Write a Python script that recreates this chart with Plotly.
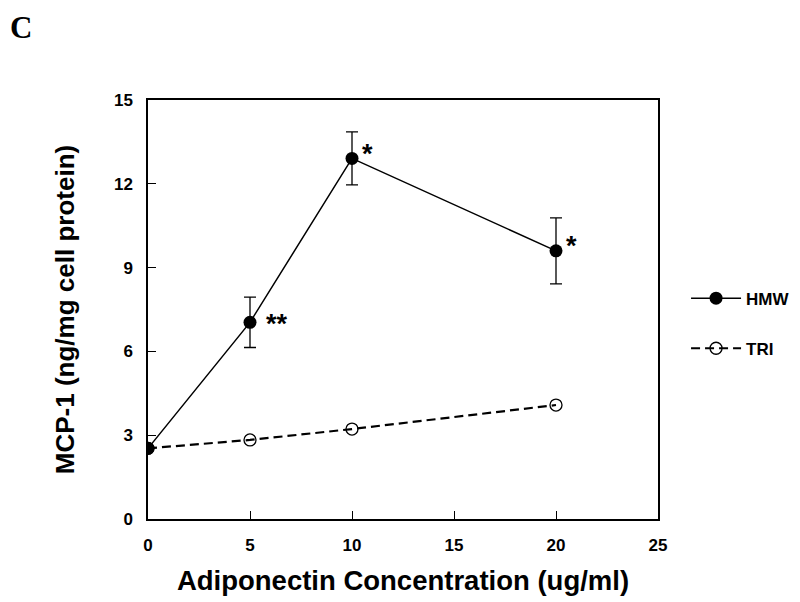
import plotly.graph_objects as go

conc = [0, 5, 10, 20]
hmw = [2.53, 7.04, 12.91, 9.6]
hmw_err = [0, 0.9, 0.95, 1.18]
tri = [2.53, 2.83, 3.22, 4.08]
sig_x = [5, 10, 20]
sig_y = [7.04, 12.91, 9.6]
sig_labels = ["**", "*", "*"]
x_ticks = [0, 5, 10, 15, 20, 25]
y_ticks = [0, 3, 6, 9, 12, 15]

FONT = "Liberation Sans, Arial, sans-serif"

fig = go.Figure()
fig.add_trace(go.Scatter(
    x=conc, y=hmw, name="<b>HMW</b>", mode="lines+markers",
    line=dict(color="black", width=1.5),
    marker=dict(symbol="circle", size=13, color="black"),
    error_y=dict(type="data", array=hmw_err, visible=True, color="black", thickness=1.3, width=6),
    legendgroup="a",
))
fig.add_trace(go.Scatter(
    x=conc, y=tri, name="<b>TRI</b>", mode="lines+markers",
    line=dict(color="black", width=2.2, dash="9px,5px"),
    marker=dict(symbol="circle-open", size=12, color="black", line=dict(width=1.3)),
    legendgroup="b",
))

shifts = {0: (14, -2), 1: (8, 4), 2: (8, 5)}
for i, (sx, sy, lab) in enumerate(zip(sig_x, sig_y, sig_labels)):
    dx, dy = shifts[i]
    fig.add_annotation(x=sx, y=sy, text="<b>" + lab + "</b>", showarrow=False,
                       xanchor="left", yanchor="middle", xshift=dx, yshift=dy,
                       font=dict(family=FONT, size=27, color="black"))

fig.add_annotation(x=-0.2725, y=1.218, xref="paper", yref="paper", xanchor="left", yanchor="top",
                   text="<b>C</b>", showarrow=False, borderpad=0,
                   font=dict(family="Liberation Serif, Times New Roman, serif", size=31, color="black"))

axis_common = dict(showline=True, linecolor="black", linewidth=1.5, mirror=True,
                   ticks="inside", ticklen=8, tickwidth=1.3, tickcolor="black",
                   showgrid=False, zeroline=False, ticklabelstandoff=10,
                   tickfont=dict(family=FONT, size=17, color="black"))

fig.update_xaxes(range=[0, 25], tickvals=x_ticks, ticktext=["<b>%d</b>" % v for v in x_ticks],
                 title=dict(text="<b>Adiponectin Concentration (ug/ml)</b>", standoff=17,
                            font=dict(family=FONT, size=27.5, color="black")),
                 **axis_common)
fig.update_yaxes(range=[0, 15], tickvals=y_ticks, ticktext=["<b>%d</b>" % v for v in y_ticks],
                 title=dict(text="<b>MCP-1 (ng/mg cell protein)</b>", standoff=32,
                            font=dict(family=FONT, size=26, color="black")),
                 **axis_common)

fig.update_layout(
    width=800, height=602,
    margin=dict(l=140, r=150, t=92, b=91, autoexpand=False),
    paper_bgcolor="white", plot_bgcolor="white",
    showlegend=True,
    legend=dict(x=1.055, y=0.569, xanchor="left", yanchor="top", itemwidth=50,
                font=dict(family=FONT, size=17, color="black"),
                tracegroupgap=25, traceorder="grouped", bgcolor="rgba(0,0,0,0)"),
)

fig.write_html("out.html")
